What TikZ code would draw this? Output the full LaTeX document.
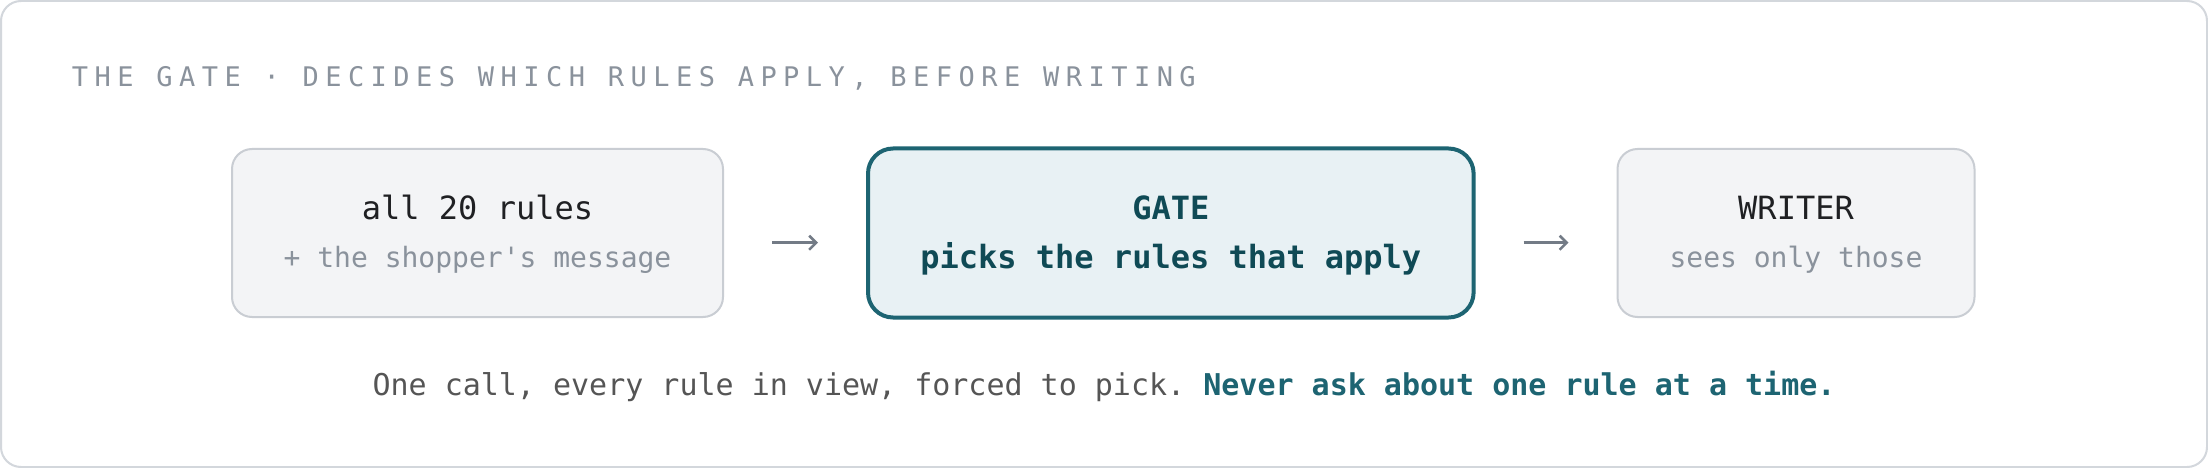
\documentclass[tikz,border=0pt]{standalone}
\usepackage{fontspec}
\setmonofont{DejaVu Sans Mono}
\newfontfamily\titlefont[LetterSpace=24]{DejaVu Sans Mono}
\usetikzlibrary{arrows.meta,positioning}
\definecolor{frameline}{HTML}{D3D7DC}
\definecolor{boxfill}{HTML}{F3F4F6}
\definecolor{boxline}{HTML}{C9CDD3}
\definecolor{gatefill}{HTML}{E8F1F4}
\definecolor{gateline}{HTML}{1D6472}
\definecolor{gatetext}{HTML}{0F4A55}
\definecolor{ink}{HTML}{1F2023}
\definecolor{muted}{HTML}{8A929C}
\definecolor{note}{HTML}{555555}
\definecolor{arrowgray}{HTML}{737B86}

\begin{document}
\begin{tikzpicture}[x=1pt, y=-1pt, font=\ttfamily,
  box/.style = {draw=boxline, fill=boxfill, line width=2pt, rounded corners=20pt, minimum height=168pt},
  gatebox/.style = {draw=gateline, fill=gatefill, line width=4pt, rounded corners=25pt, minimum height=169pt},
  head/.style = {anchor=base, inner sep=0pt, text=ink, font=\ttfamily\fontsize{32}{38}\selectfont},
  sub/.style = {anchor=base, inner sep=0pt, text=muted, font=\ttfamily\fontsize{28}{34}\selectfont},
  flow/.style = {arrowgray, line width=2.6pt, -{Straight Barb[length=7pt,width=14pt]}, shorten <=48pt, shorten >=48pt}]
	\useasboundingbox (0,0) rectangle (2208,468);
	\fill[white] (0,0) rectangle (2208,468);
	\draw[frameline, line width=2pt, rounded corners=20pt] (1,1) rectangle (2207,467);

	\node[anchor=base west, inner sep=0pt, text=muted, font=\titlefont\fontsize{27}{31}\selectfont] (title) at (71.7,86.7) {THE GATE · DECIDES WHICH RULES APPLY, BEFORE WRITING};

	\node[box, minimum width=491pt] (src) at (477.5,233) {};
	\node[gatebox, minimum width=605.6pt] (gate) at (1170.8,233) {};
	\node[box, minimum width=357pt] (writer) at (1796,233) {};

	\node[head] (srcT) at ([yshift=13.4pt]src.center) {all 20 rules};
	\node[sub] (srcS) at ([yshift=-34.5pt]src.center) {+ the shopper's message};
	\node[head, text=gatetext, font=\ttfamily\bfseries\fontsize{32}{38}\selectfont] (gateT) at ([yshift=13.4pt]gate.center) {GATE};
	\node[head, text=gatetext, font=\ttfamily\bfseries\fontsize{32}{38}\selectfont] (gateS) at ([yshift=-35.5pt]gate.center) {picks the rules that apply};
	\node[head] (writerT) at ([yshift=13.4pt]writer.center) {WRITER};
	\node[sub] (writerS) at ([yshift=-34.5pt]writer.center) {sees only those};

	\draw[flow] ([yshift=-9.7pt]src.east) -- ([yshift=-9.7pt]gate.west);
	\draw[flow] ([yshift=-9.7pt]gate.east) -- ([yshift=-9.7pt]writer.west);

	\node[anchor=base, inner sep=0pt, text=note, font=\ttfamily\fontsize{30}{36}\selectfont] (note) at (1104,395.7) {One call, every rule in view, forced to pick. \textbf{\textcolor{gateline}{Never ask about one rule at a time.}}};
\end{tikzpicture}
\end{document}
